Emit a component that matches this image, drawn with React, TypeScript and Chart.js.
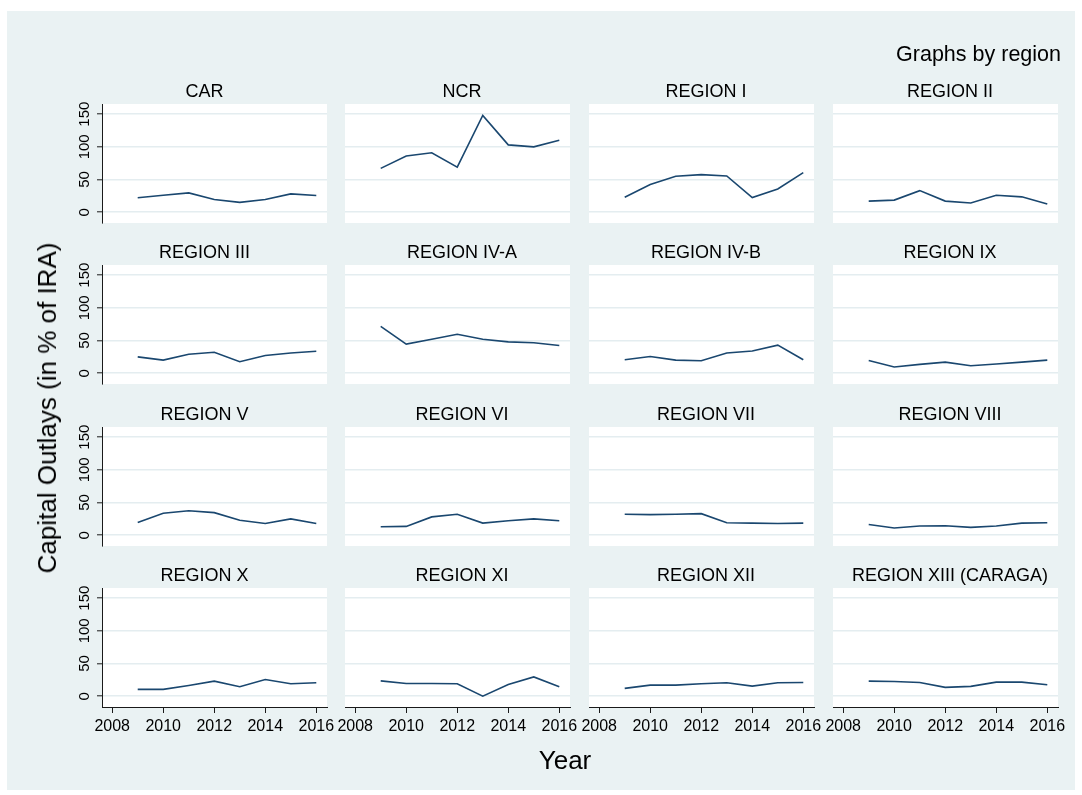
import React, { useEffect, useRef } from "react";
import { Chart, registerables } from "chart.js";

Chart.register(...registerables);

// ---------------- data ----------------
const years = [2009, 2010, 2011, 2012, 2013, 2014, 2015, 2016];

const regions = [
  "CAR", "NCR", "REGION I", "REGION II",
  "REGION III", "REGION IV-A", "REGION IV-B", "REGION IX",
  "REGION V", "REGION VI", "REGION VII", "REGION VIII",
  "REGION X", "REGION XI", "REGION XII", "REGION XIII (CARAGA)",
];

const car = [22, 26, 29.5, 19.5, 15, 19.5, 28, 25.5];
const ncr = [67, 86, 91, 69, 148, 103, 100, 110];
const region1 = [23, 42.5, 55, 57.5, 55.5, 22.5, 35.5, 60.5];
const region2 = [17, 18.5, 33, 17, 14, 26, 23.5, 12.5];
const region3 = [25, 20, 29, 32, 17.5, 27, 31, 33.5];
const region4a = [71.5, 44.5, 52, 59.5, 52, 48, 46.5, 42.5];
const region4b = [20.5, 25.5, 20, 19, 31, 34, 43, 20.5];
const region9 = [19.5, 9.5, 13.5, 17, 11.5, 14, 17, 20];
const region5 = [19.5, 33.5, 37.5, 34.5, 23, 18, 25, 18];
const region6 = [13, 13.5, 28, 32, 18.5, 22, 25, 22];
const region7 = [32, 31.5, 32, 33, 19, 18.5, 18, 18.5];
const region8 = [16.5, 11, 14, 14.5, 12, 14, 18.5, 19];
const region10 = [10.5, 10.5, 16.5, 23, 14.5, 25.5, 19, 20.5];
const region11 = [23.5, 19.5, 19.5, 19, 0, 18, 29.5, 14.5];
const region12 = [12, 17, 17, 19, 20.5, 15.5, 20.5, 21];
const region13 = [23, 22.5, 21, 13.5, 15, 21.5, 21.5, 17.5];

const seriesValues = [
  car, ncr, region1, region2,
  region3, region4a, region4b, region9,
  region5, region6, region7, region8,
  region10, region11, region12, region13,
];

const xTicks = [2008, 2010, 2012, 2014, 2016];
const yTicks = [0, 50, 100, 150];

const yTitle = "Capital Outlays (in % of IRA)";
const xTitle = "Year";
const noteText = "Graphs by region";

// ---------------- layout / style ----------------
const FONT = "'Liberation Sans', Arial, Helvetica, sans-serif";
const BG = "#eaf2f3";
const LINE = "#1a476f";
const GRID = "#e4edf0";
const AXIS = "#1a1a1a";
const TEXT = "#000000";

const COL_LEFT = [102, 345, 589, 833];
const ROW_TOP = [104, 265, 427, 588];
const PLOT_W = 225;
const PLOT_H = 119;
const M_L = 45, M_R = 45, M_T = 30, M_B = 45;
const Y_AXIS_W = 30;
const X_AXIS_H = 40;
const X_MIN = 2007.6, X_MAX = 2016.42;
const Y_MIN = -16.5, Y_MAX = 165.5;
const TITLE_OFFSET = [-10, 4.5, 4.5, 4.5];

function Panel({ idx }: { idx: number }) {
  const ref = useRef<HTMLCanvasElement>(null);
  const r = Math.floor(idx / 4);
  const c = idx % 4;
  const W = PLOT_W + M_L + M_R;
  const H = PLOT_H + M_T + M_B;
  const left = COL_LEFT[c] - M_L;
  const top = ROW_TOP[r] - M_T;

  useEffect(() => {
    const canvas = ref.current!;
    const firstCol = c === 0;
    const lastRow = r === 3;
    const title = regions[idx];
    const values = seriesValues[idx];

    const panelPlugin = {
      id: "panelDeco" + idx,
      beforeDraw(chart: any) {
        const { ctx, chartArea } = chart;
        ctx.save();
        ctx.fillStyle = "#ffffff";
        ctx.fillRect(chartArea.left, chartArea.top, chartArea.right - chartArea.left, chartArea.bottom - chartArea.top);
        ctx.restore();
      },
      afterDraw(chart: any) {
        const { ctx, chartArea } = chart;
        ctx.save();
        ctx.font = `18px ${FONT}`;
        ctx.fillStyle = TEXT;
        ctx.textAlign = "center";
        ctx.textBaseline = "middle";
        ctx.fillText(title, (chartArea.left + chartArea.right) / 2 + TITLE_OFFSET[c], chartArea.top - 12);
        ctx.restore();
      },
    };

    const chart = new Chart(canvas, {
      type: "line",
      data: {
        datasets: [
          {
            data: years.map((yr, i) => ({ x: yr, y: values[i] })),
            borderColor: LINE,
            borderWidth: 1.6,
            pointRadius: 0,
            tension: 0,
            fill: false,
          },
        ],
      },
      options: {
        responsive: false,
        animation: false,
        devicePixelRatio: 1,
        events: [],
        layout: {
          padding: {
            left: M_L - (firstCol ? Y_AXIS_W : 0),
            right: M_R,
            top: M_T,
            bottom: M_B - (lastRow ? X_AXIS_H : 0),
          },
        },
        plugins: {
          legend: { display: false },
          tooltip: { enabled: false },
          title: { display: false },
        },
        scales: {
          x: {
            type: "linear",
            min: X_MIN,
            max: X_MAX,
            display: lastRow,
            afterBuildTicks: (s: any) => {
              s.ticks = xTicks.map((v) => ({ value: v }));
            },
            afterFit: (s: any) => {
              s.height = lastRow ? X_AXIS_H : 0;
            },
            grid: {
              drawOnChartArea: false,
              drawTicks: true,
              tickLength: 6,
              color: AXIS,
              tickColor: AXIS,
              tickWidth: 1,
            },
            border: { display: lastRow, color: AXIS, width: 1 },
            ticks: {
              display: lastRow,
              padding: 4,
              maxRotation: 0,
              minRotation: 0,
              autoSkip: false,
              color: TEXT,
              font: { family: FONT, size: 16 },
              callback: (v: any) => String(v),
            },
          },
          y: {
            type: "linear",
            min: Y_MIN,
            max: Y_MAX,
            display: true,
            afterBuildTicks: (s: any) => {
              s.ticks = yTicks.map((v) => ({ value: v }));
            },
            afterFit: (s: any) => {
              s.width = firstCol ? Y_AXIS_W : 0;
            },
            grid: {
              drawOnChartArea: true,
              drawTicks: firstCol,
              tickLength: 5,
              color: GRID,
              lineWidth: 1.6,
              tickColor: AXIS,
              tickWidth: 1,
            },
            border: { display: firstCol, color: AXIS, width: 1 },
            ticks: {
              display: firstCol,
              padding: 0,
              minRotation: 90,
              maxRotation: 90,
              crossAlign: "center",
              color: TEXT,
              font: { family: FONT, size: 15 },
              callback: (v: any) => String(v),
            },
          },
        },
      },
      plugins: [panelPlugin],
    } as any);
    return () => chart.destroy();
  }, []);

  return (
    <canvas
      ref={ref}
      width={W}
      height={H}
      style={{ position: "absolute", left, top, width: W, height: H }}
    />
  );
}

export default function App() {
  return (
    <div
      style={{
        position: "absolute",
        left: 0,
        top: 0,
        width: 1082,
        height: 795,
        background: "#ffffff",
        overflow: "hidden",
        fontFamily: FONT,
      }}
    >
      <div style={{ position: "absolute", left: 7, top: 11, width: 1068, height: 779, background: BG }} />
      {regions.map((_, i) => (
        <Panel key={i} idx={i} />
      ))}
      <div
        style={{
          position: "absolute",
          right: 1082 - 1061,
          top: 55,
          transform: "translateY(-50%)",
          fontSize: 21.5,
          lineHeight: 1,
          color: TEXT,
          whiteSpace: "nowrap",
        }}
      >
        {noteText}
      </div>
      <div
        style={{
          position: "absolute",
          left: 565,
          top: 760,
          transform: "translate(-50%, -50%)",
          fontSize: 26,
          lineHeight: 1,
          color: TEXT,
          whiteSpace: "nowrap",
        }}
      >
        {xTitle}
      </div>
      <div
        style={{
          position: "absolute",
          left: 47,
          top: 408,
          transform: "translate(-50%, -50%) rotate(-90deg)",
          fontSize: 26,
          lineHeight: 1,
          color: TEXT,
          whiteSpace: "nowrap",
        }}
      >
        {yTitle}
      </div>
    </div>
  );
}
